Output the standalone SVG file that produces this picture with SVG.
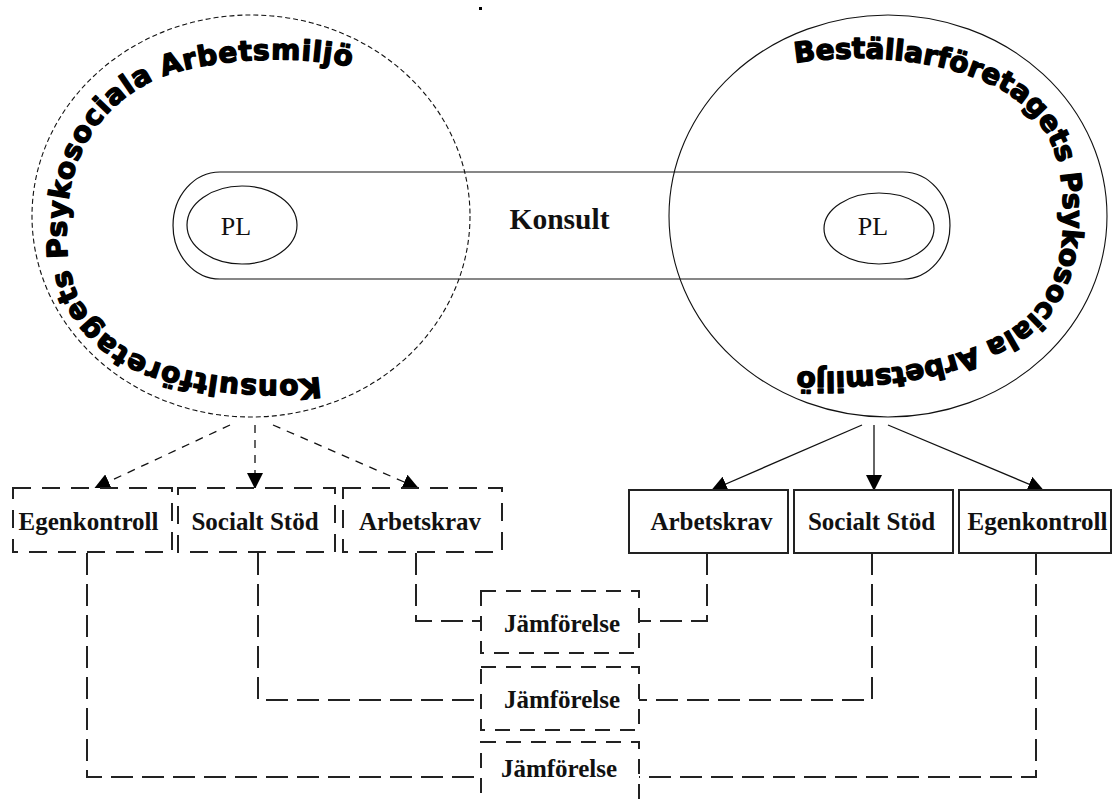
<svg xmlns="http://www.w3.org/2000/svg" width="1112" height="802" viewBox="0 0 1112 802">
<style>
.ring-d{fill:none;stroke:#111;stroke-width:1.1;stroke-dasharray:5 3}
.ring{fill:none;stroke:#111;stroke-width:1.1}
.shape{fill:none;stroke:#111;stroke-width:1.2}
.box-d{fill:#fff;stroke:#222;stroke-width:2;stroke-dasharray:18 11}
.box{fill:#fff;stroke:#222;stroke-width:2}
.cmp{fill:#fff;stroke:#222;stroke-width:2;stroke-dasharray:15 10}
.lbl{font-family:"Liberation Serif",serif;font-weight:bold;font-size:25px;text-anchor:middle;fill:#111}
.big{font-family:"Liberation Serif",serif;font-weight:bold;font-size:29.5px;text-anchor:middle;fill:#111}
.pl{font-family:"Liberation Serif",serif;font-size:26px;text-anchor:middle;fill:#111}
.arc{font-family:"DejaVu Sans",sans-serif;font-weight:bold;font-size:28px;fill:#000;stroke:#000;stroke-width:1.4;stroke-linejoin:round}
.conn{fill:none;stroke:#222;stroke-width:2;stroke-dasharray:22 9}
.arr{fill:none;stroke:#111;stroke-width:1.3}
.arr-d{fill:none;stroke:#111;stroke-width:1.3;stroke-dasharray:8 7}
</style>
<defs>
<marker id="ah" markerUnits="userSpaceOnUse" viewBox="0 0 16 16" markerWidth="16" markerHeight="16" refX="15" refY="8" orient="auto">
<path d="M0,0 L16,8 L0,16 z" fill="#000"/>
</marker>
<path id="leftArc" d="M320,377 C270,384 200,378 150,360 C100,340 68,300 67,245 C64,185 78,120 150,82 C195,60 290,52 355,68 C375,72 395,80 410,90"/>
<path id="rightArc" d="M795,63 C870,52 950,60 1005,92 C1050,120 1062,160 1063,205 C1066,265 1050,315 990,340 C940,365 870,375 790,371 C770,370 750,367 730,362"/>
</defs>
<rect x="0" y="0" width="1112" height="802" fill="#fff"/>
<rect x="479" y="7" width="3" height="3" fill="#000"/>

<g id="konsult">
<path class="shape" d="M220,172 H903 A47,53.5 0 0 1 903,279 H220 A47,53.5 0 0 1 220,172 Z"/>
<text class="big" x="559.5" y="229">Konsult</text>
</g>

<g id="left-env">
<ellipse class="ring-d" cx="251" cy="216" rx="219" ry="201"/>
<text class="arc"><textPath href="#leftArc" startOffset="0" textLength="299" lengthAdjust="spacing">Konsultföretagets</textPath></text>
<text class="arc"><textPath href="#leftArc" startOffset="310" textLength="212" lengthAdjust="spacing">Psykosociala</textPath></text>
<text class="arc"><textPath href="#leftArc" startOffset="532" textLength="190" lengthAdjust="spacing">Arbetsmiljö</textPath></text>
</g>

<g id="right-env">
<ellipse class="ring" cx="888" cy="216" rx="219" ry="201"/>
<text class="arc"><textPath href="#rightArc" startOffset="0" textLength="307" lengthAdjust="spacing">Beställarföretagets</textPath></text>
<text class="arc"><textPath href="#rightArc" startOffset="317" textLength="203" lengthAdjust="spacing">Psykosociala</textPath></text>
<text class="arc"><textPath href="#rightArc" startOffset="530" textLength="182" lengthAdjust="spacing">Arbetsmiljö</textPath></text>
</g>

<g id="pl-left">
<ellipse class="shape" cx="242" cy="225" rx="55" ry="39"/>
<text class="pl" x="236" y="235">PL</text>
</g>
<g id="pl-right">
<ellipse class="shape" cx="879" cy="228.5" rx="55" ry="35.5"/>
<text class="pl" x="873" y="235">PL</text>
</g>

<g id="connectors">
<path class="arr-d" d="M230,425 L95,488" marker-end="url(#ah)"/>
<path class="arr-d" d="M255,425 L255,488" marker-end="url(#ah)"/>
<path class="arr-d" d="M273,425 L418,488" marker-end="url(#ah)"/>
<path class="arr" d="M862,425 L712,490" marker-end="url(#ah)"/>
<path class="arr" d="M874,425 L874,490" marker-end="url(#ah)"/>
<path class="arr" d="M888,425 L1043,490" marker-end="url(#ah)"/>
<path class="conn" d="M416,553 V621 H481"/>
<path class="conn" d="M707,553 V621 H639"/>
<path class="conn" d="M258,553 V700 H481"/>
<path class="conn" d="M872,553 V700 H639"/>
<path class="conn" d="M87,553 V777 H481"/>
<path class="conn" d="M1036,553 V777 H639"/>
</g>

<g id="k-egenkontroll">
<rect class="box-d" x="13" y="488" width="159" height="64"/>
<text class="lbl" x="88.5" y="530">Egenkontroll</text>
</g>
<g id="k-socialt">
<rect class="box-d" x="178" y="488" width="157" height="64"/>
<text class="lbl" x="255" y="530">Socialt Stöd</text>
</g>
<g id="k-arbetskrav">
<rect class="box-d" x="343" y="488" width="159" height="64"/>
<text class="lbl" x="420" y="530">Arbetskrav</text>
</g>

<g id="b-arbetskrav">
<rect class="box" x="629" y="490" width="159" height="63"/>
<text class="lbl" x="711.5" y="530">Arbetskrav</text>
</g>
<g id="b-socialt">
<rect class="box" x="794" y="490" width="159" height="63"/>
<text class="lbl" x="871.5" y="530">Socialt Stöd</text>
</g>
<g id="b-egenkontroll">
<rect class="box" x="959" y="490" width="152" height="63"/>
<text class="lbl" x="1037.5" y="530">Egenkontroll</text>
</g>

<g id="cmp-1">
<rect class="cmp" x="481" y="591" width="158" height="62"/>
<text class="lbl" x="562" y="632">Jämförelse</text>
</g>
<g id="cmp-2">
<rect class="cmp" x="481" y="667" width="158" height="63"/>
<text class="lbl" x="562" y="708">Jämförelse</text>
</g>
<g id="cmp-3">
<rect class="cmp" x="481" y="742" width="158" height="80"/>
<text class="lbl" x="559" y="777">Jämförelse</text>
</g>
</svg>
